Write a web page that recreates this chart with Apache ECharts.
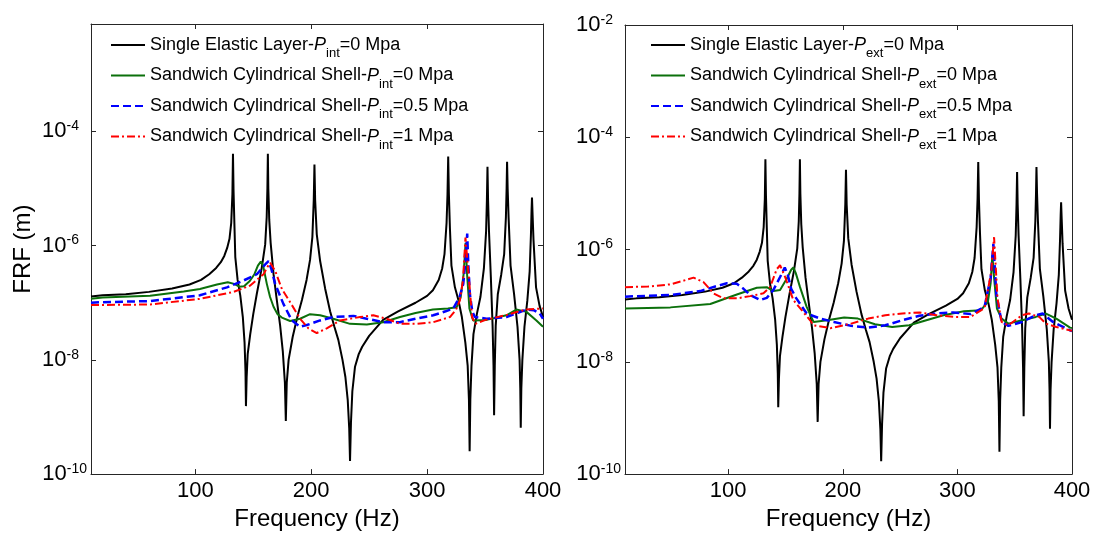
<!DOCTYPE html>
<html><head><meta charset="utf-8">
<script src="https://cdn.jsdelivr.net/npm/echarts@6/dist/echarts.min.js"></script>
<style>html,body{margin:0;padding:0;background:#fff;}#c{width:1099px;height:536px;}</style>
</head><body><div id="c"></div>
<script>
// ---------- data (frequency in Hz, FRF in m) ----------
const xLabelTicks = [100, 200, 300, 400];
const yTickExponents = [-10, -8, -6, -4, -2];

// Single elastic layer (P = 0 MPa), identical in both panels
const singleLayer = [
[10,1.29e-7],[20,1.35e-7],[40,1.41e-7],[60,1.55e-7],[80,1.78e-7],[95,2.09e-7],[105,2.51e-7],[112,3.16e-7],[118,4.07e-7],[122,5.13e-7],[125,6.61e-7],[127.5,9.12e-7],[129.5,1.32e-6],[131,2.51e-6],[132,7.94e-6],[132.5,4.07e-5],[133,8.91e-6],[133.7,2.51e-6],[134.5,6.31e-7],[136.5,2.51e-7],[138.8,1.35e-7],[141,5.62e-8],[142.5,2.0e-8],[143.3,6.31e-9],[143.7,1.55e-9],[144.3,5.01e-9],[145.2,1.26e-8],[147.4,2.82e-8],[150,6.31e-8],[153,1.41e-7],[157.4,4.17e-7],[160.3,1.05e-6],[161.6,3.16e-6],[162.2,1.0e-5],[162.6,4.07e-5],[163,1.0e-5],[163.8,2.82e-6],[165,1.12e-6],[167.5,3.16e-7],[170,1.26e-7],[173.2,3.98e-8],[175.5,1.41e-8],[177.3,3.98e-9],[178.1,8.51e-10],[178.9,3.98e-9],[180.5,1.0e-8],[184,2.51e-8],[188,5.62e-8],[192,1.12e-7],[196,2.51e-7],[199,5.62e-7],[201,1.41e-6],[202.2,6.31e-6],[202.8,2.63e-5],[203.4,6.31e-6],[204.8,1.58e-6],[207.7,5.37e-7],[212,1.78e-7],[216.3,7.08e-8],[220,3.8e-8],[223.4,2.24e-8],[227,1.0e-8],[229.5,5.01e-9],[231.5,2.0e-9],[232.8,6.31e-10],[233.5,1.7e-10],[234.3,7.94e-10],[235.5,2.82e-9],[237.8,7.59e-9],[241,1.26e-8],[244,1.7e-8],[250,2.63e-8],[262,5.01e-8],[275,7.08e-8],[290,1.0e-7],[300,1.32e-7],[305,1.66e-7],[310,2.51e-7],[313,3.98e-7],[315,7.08e-7],[316.8,2.51e-6],[317.6,7.94e-6],[318.2,3.63e-5],[318.8,7.94e-6],[319.7,2.0e-6],[321,4.47e-7],[324,1.86e-7],[327,1.12e-7],[330,5.62e-8],[333,2.0e-8],[335,7.94e-9],[336.1,2.0e-9],[336.7,2.51e-10],[337.3,2.0e-9],[338.3,7.94e-9],[340,2.82e-8],[343,6.46e-8],[346,1.26e-7],[349,3.98e-7],[350.9,1.78e-6],[351.6,6.31e-6],[352.1,2.4e-5],[352.6,6.31e-6],[353.4,1.78e-6],[355,2.82e-7],[356.5,3.98e-8],[357.3,7.94e-9],[357.8,1.07e-9],[358.4,7.94e-9],[359.2,3.98e-8],[361,1.41e-7],[364,3.16e-7],[366.5,7.08e-7],[368,3.16e-6],[368.6,1.0e-5],[369,2.95e-5],[369.5,1.0e-5],[370.3,3.16e-6],[372,4.47e-7],[375,1.45e-7],[378,3.8e-8],[379.8,1.0e-8],[380.4,3.16e-9],[380.8,6.46e-10],[381.3,3.16e-9],[382.2,1.0e-8],[384,3.8e-8],[386.5,1.1e-7],[388.5,3.55e-7],[389.6,1.58e-6],[390.1,3.98e-6],[390.5,6.92e-6],[391,3.55e-6],[391.8,1.26e-6],[394,1.86e-7],[397,8.91e-8],[400,5.62e-8]
];

// Left panel: sandwich shell, internal pressure
const sandwichInt0 = [
[10,1.17e-7],[20,1.23e-7],[61,1.32e-7],[90,1.58e-7],[104,1.74e-7],[118.7,2.09e-7],[128,2.29e-7],[133.5,2.14e-7],[138,1.91e-7],[142,1.95e-7],[147,2.4e-7],[151,3.16e-7],[154,4.47e-7],[156.5,5.25e-7],[158.5,4.47e-7],[161.7,2.14e-7],[164.5,1.26e-7],[167.5,8.51e-8],[171,6.31e-8],[174.7,5.5e-8],[181.8,4.79e-8],[190.4,5.25e-8],[199,6.31e-8],[207.7,6.03e-8],[219,5.25e-8],[233.5,4.27e-8],[248,4.17e-8],[262,4.57e-8],[276.6,5.62e-8],[290,6.61e-8],[305,7.59e-8],[318,7.94e-8],[325.4,8.32e-8],[329,1.26e-7],[331.5,3.16e-7],[333.2,1.12e-6],[334.5,3.16e-7],[336.5,7.94e-8],[339.7,4.9e-8],[351.3,5.01e-8],[368.5,6.03e-8],[377,7.59e-8],[385.7,6.92e-8],[394.3,4.9e-8],[400,3.8e-8]
];
const sandwichInt05 = [
[10,1.0e-7],[18,1.02e-7],[61,1.07e-7],[104,1.35e-7],[127.3,1.86e-7],[141.6,2.45e-7],[153.1,3.16e-7],[160.3,4.68e-7],[163.2,5.37e-7],[165.5,3.98e-7],[168.9,2.14e-7],[176,9.55e-8],[183.3,4.9e-8],[190.4,3.8e-8],[196.2,4.07e-8],[207.7,4.9e-8],[219.1,5.62e-8],[236.4,5.89e-8],[247.9,5.25e-8],[262.2,4.57e-8],[276.6,4.57e-8],[290,5.25e-8],[305.3,6.03e-8],[316,7.08e-8],[322.6,7.94e-8],[328,1.26e-7],[331.2,2.14e-7],[333.5,6.31e-7],[334.6,1.62e-6],[335.5,5.01e-7],[336.9,1.41e-7],[339,7.08e-8],[341.2,5.62e-8],[351.3,5.25e-8],[368.5,5.62e-8],[385.7,7.59e-8],[392,7.41e-8],[397.2,6.46e-8],[400,5.25e-8]
];
const sandwichInt1 = [
[10,9.12e-8],[18,9.12e-8],[61,9.33e-8],[104,1.17e-7],[133,1.55e-7],[147.4,2.0e-7],[158.9,3.16e-7],[162,4.17e-7],[164.6,5.01e-7],[168.9,3.63e-7],[174.7,1.74e-7],[183.3,9.12e-8],[190.4,5.25e-8],[197.6,3.55e-8],[204.8,2.95e-8],[213.4,3.55e-8],[224.9,4.9e-8],[242.1,5.62e-8],[253.6,6.03e-8],[265.1,5.25e-8],[276.6,4.27e-8],[290,4.27e-8],[305.3,4.57e-8],[319.7,5.62e-8],[325,7.59e-8],[328.3,1.1e-7],[331,2.51e-7],[333.1,1.38e-6],[334.5,6.31e-7],[336,2.82e-7],[338.8,5.62e-8],[341.7,4.27e-8],[350.3,5.01e-8],[367.6,6.03e-8],[384.8,7.59e-8],[400,7.94e-8]
];

// Right panel: sandwich shell, external pressure
const sandwichExt0 = [
[10,8.91e-8],[49.6,9.33e-8],[84.4,1.07e-7],[107.6,1.58e-7],[125,2.09e-7],[133.7,2.14e-7],[139.5,1.82e-7],[145.3,1.91e-7],[151.1,3.02e-7],[155,4.37e-7],[156.9,4.79e-7],[159,3.8e-7],[162.7,2.14e-7],[168.5,9.55e-8],[174.5,5.13e-8],[186.4,5.5e-8],[201.2,6.17e-8],[213.2,5.89e-8],[228.1,4.68e-8],[243.1,4.17e-8],[258,4.47e-8],[272.9,5.5e-8],[287.8,6.76e-8],[305.7,7.94e-8],[320.6,8.32e-8],[326.6,1.17e-7],[329,2.51e-7],[330.5,7.94e-7],[332,3.16e-7],[334.5,8.91e-8],[338.6,5.89e-8],[344.5,4.79e-8],[356.4,5.5e-8],[368.4,6.31e-8],[377.3,7.24e-8],[386.3,5.89e-8],[398.3,4.07e-8],[400,3.98e-8]
];
const sandwichExt05 = [
[10,1.45e-7],[49.6,1.55e-7],[75.7,1.82e-7],[90.2,2.24e-7],[98.9,2.51e-7],[107.6,2.45e-7],[113.4,2.0e-7],[119.2,1.55e-7],[127.9,1.26e-7],[133.7,1.38e-7],[139.5,1.91e-7],[145.3,3.24e-7],[149.4,4.79e-7],[152,3.55e-7],[155,2.0e-7],[159.5,1.35e-7],[168.5,7.24e-8],[180.4,5.89e-8],[192.4,5.13e-8],[207.3,4.37e-8],[222.2,4.07e-8],[237.1,4.47e-8],[252,5.5e-8],[266.9,6.61e-8],[281.8,7.24e-8],[296.7,7.59e-8],[311.6,7.08e-8],[323.7,9.55e-8],[329,3.16e-7],[331.4,1.26e-6],[334,1.58e-7],[338.6,5.13e-8],[344.5,4.37e-8],[356.4,5.13e-8],[368.4,6.76e-8],[374.4,7.24e-8],[383.4,5.13e-8],[398.3,3.63e-8],[400,3.55e-8]
];
const sandwichExt1 = [
[10,2.14e-7],[30,2.19e-7],[49.6,2.4e-7],[60,2.75e-7],[69.8,3.16e-7],[78.5,2.63e-7],[87.2,1.66e-7],[95.9,1.35e-7],[107.6,1.35e-7],[119.2,1.48e-7],[130.8,1.66e-7],[136.6,2.14e-7],[142.4,4.47e-7],[145.3,5.25e-7],[149.7,3.24e-7],[156.9,1.26e-7],[164.2,8.32e-8],[171.5,5.5e-8],[174.5,4.47e-8],[189.3,3.98e-8],[207.3,4.79e-8],[222.2,5.89e-8],[237.1,6.76e-8],[252,7.24e-8],[266.9,7.59e-8],[281.8,6.76e-8],[296.7,6.31e-8],[311.6,6.31e-8],[323.7,9.12e-8],[329.6,4.07e-7],[332,1.66e-6],[335,1.35e-7],[338.6,5.13e-8],[344.5,4.47e-8],[356.4,6.76e-8],[362.4,7.24e-8],[371.4,6.31e-8],[377.3,4.79e-8],[386.3,4.17e-8],[398.3,3.63e-8],[400,3.63e-8]
];

// legend labels: [prefix, subscript, suffix]
const legendLeft = [
 ['Single Elastic Layer-', 'int', '=0 Mpa'],
 ['Sandwich Cylindrical Shell-', 'int', '=0 Mpa'],
 ['Sandwich Cylindrical Shell-', 'int', '=0.5 Mpa'],
 ['Sandwich Cylindrical Shell-', 'int', '=1 Mpa']
];
const legendRight = [
 ['Single Elastic Layer-', 'ext', '=0 Mpa'],
 ['Sandwich Cylindrical Shell-', 'ext', '=0 Mpa'],
 ['Sandwich Cylindrical Shell-', 'ext', '=0.5 Mpa'],
 ['Sandwich Cylindrical Shell-', 'ext', '=1 Mpa']
];
// y-axis limits of the two panels
const yMinLeft = 1e-10, yMaxLeft = 7.59e-3;
const yMinRight = 1e-10, yMaxRight = 1e-2;

// ---------- chart ----------
const FONT = 'Liberation Sans, Arial, sans-serif';
const seriesStyles = [
  {color: '#000000', width: 2, type: 'solid'},
  {color: '#0b700b', width: 2, type: 'solid'},
  {color: '#0000ff', width: 2.5, type: [8, 4]},
  {color: '#ff0000', width: 2, type: [8, 3, 2, 3]}
];
const nameOf = (p) => p[0] + 'P' + p[1] + p[2];
const labelMap = {};
legendLeft.concat(legendRight).forEach(p => { labelMap[nameOf(p)] = p; });

const chart = echarts.init(document.getElementById('c'), null, {renderer: 'canvas'});

const grids = [
  {left: 91, top: 24, width: 452, height: 454},
  {left: 625, top: 25, width: 447, height: 455}
];

function xAxes(gi) {
  const base = {
    type: 'value', gridIndex: gi, min: 10, max: 400, splitNumber: 4,
    axisLine: {show: true, lineStyle: {color: '#262626', width: 1}},
    axisTick: {show: true, inside: true, length: 5, lineStyle: {color: '#262626'}},
    splitLine: {show: false}
  };
  return [
    Object.assign({}, base, {
      position: 'bottom',
      axisLabel: {show: true, color: '#000', fontFamily: FONT, fontSize: 22, margin: 6,
        showMinLabel: false,
        formatter: v => xLabelTicks.indexOf(v) >= 0 ? String(v) : ''},
      name: 'Frequency (Hz)', nameLocation: 'middle', nameGap: 30,
      nameTextStyle: {color: '#000', fontFamily: FONT, fontSize: 24}
    }),
    Object.assign({}, base, {position: 'top', axisLabel: {show: false}})
  ];
}
function yAxes(gi, showTop, yMin, yMax) {
  const base = {
    type: 'log', logBase: 100, gridIndex: gi, min: yMin, max: yMax, splitNumber: 4,
    axisLine: {show: true, lineStyle: {color: '#262626', width: 1}},
    axisTick: {show: true, inside: true, length: 5, lineStyle: {color: '#262626'}},
    splitLine: {show: false}, minorTick: {show: false}
  };
  const left = Object.assign({}, base, {
    position: 'left',
    axisLabel: {
      show: true, margin: 4, fontFamily: FONT, color: '#000',
      formatter: v => {
        const e = Math.round(Math.log10(v));
        if (yTickExponents.indexOf(e) < 0) return '';
        if (!showTop && e === -2) return '';
        return '{b|10}{' + (e <= -10 ? 's2' : 's1') + '|' + e + '}';
      },
      rich: {
        b: {fontFamily: FONT, fontSize: 22, lineHeight: 24, color: '#000'},
        s1: {fontFamily: FONT, fontSize: 14, lineHeight: 14, verticalAlign: 'top', padding: [0, 8, 0, 0], color: '#000'},
        s2: {fontFamily: FONT, fontSize: 14, lineHeight: 14, verticalAlign: 'top', color: '#000'}
      }
    }
  });
  if (gi === 0) {
    left.name = 'FRF (m)';
    left.nameLocation = 'middle';
    left.nameGap = 56;
    left.nameTextStyle = {color: '#000', fontFamily: FONT, fontSize: 24};
  }
  return [left, Object.assign({}, base, {position: 'right', axisLabel: {show: false}})];
}

function makeLegend(items, left) {
  return {
    orient: 'vertical', left: left, top: 31, itemGap: 6.5,
    itemWidth: 34, itemHeight: 14,
    data: items.map(nameOf),
    selectedMode: false,
    itemStyle: {opacity: 0, borderWidth: 0},
    formatter: name => {
      const p = labelMap[name];
      return '{n|' + p[0] + '}{p|P}{s|' + p[1] + '}{n|' + p[2] + '}';
    },
    textStyle: {
      fontFamily: FONT, fontSize: 18, color: '#000',
      rich: {
        n: {fontFamily: FONT, fontSize: 18, lineHeight: 30, color: '#000'},
        p: {fontFamily: FONT, fontSize: 18, lineHeight: 30, fontStyle: 'italic', color: '#000'},
        s: {fontFamily: FONT, fontSize: 13, lineHeight: 10, verticalAlign: 'bottom', color: '#000'}
      }
    }
  };
}

const leftData = [singleLayer, sandwichInt0, sandwichInt05, sandwichInt1];
const rightData = [singleLayer, sandwichExt0, sandwichExt05, sandwichExt1];
const series = [];
[[legendLeft, leftData, 0], [legendRight, rightData, 2]].forEach(([labels, datas, ai]) => {
  datas.forEach((d, i) => {
    const st = seriesStyles[i];
    series.push({
      type: 'line', name: nameOf(labels[i]), data: d,
      xAxisIndex: ai, yAxisIndex: ai,
      showSymbol: false, symbol: 'none', smooth: false, clip: true,
      color: st.color,
      lineStyle: {color: st.color, width: st.width, type: st.type},
      emphasis: {disabled: true}, z: 2 + i
    });
  });
});

chart.setOption({
  animation: false,
  backgroundColor: '#ffffff',
  grid: grids,
  xAxis: xAxes(0).concat(xAxes(1)),
  yAxis: yAxes(0, false, yMinLeft, yMaxLeft).concat(yAxes(1, true, yMinRight, yMaxRight)),
  legend: [makeLegend(legendLeft, 105), makeLegend(legendRight, 645)],
  series: series
});
</script></body></html>
